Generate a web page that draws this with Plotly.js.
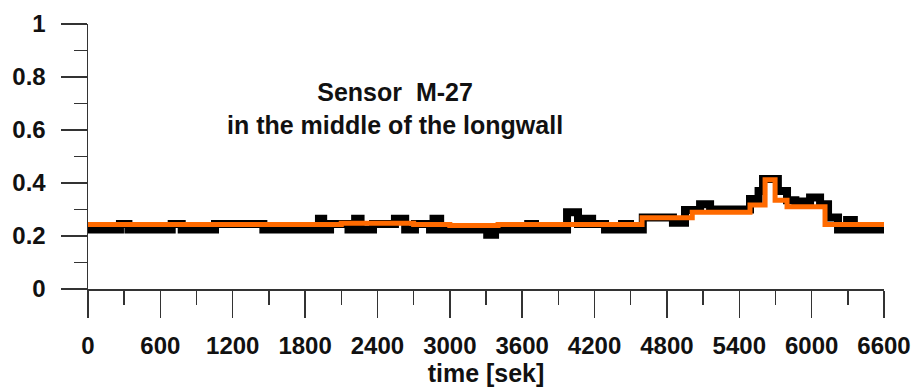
<!DOCTYPE html>
<html><head><meta charset="utf-8">
<script src="https://cdn.plot.ly/plotly-3.0.1.min.js"></script>
<style>html,body{margin:0;padding:0;background:#fff;}#chart{width:915px;height:390px;}</style>
</head><body><div id="chart"></div>
<script>
// Measured signal (black), step changes: time [s] and value
const sensorTime = [0,265,335,694,777,1053,1454,1915,1950,2007,2160,2215,2260,2363,2545,2630,2711,2836,2865,2920,3310,3375,3650,3706,3972,4063,4121,4180,4287,4428,4494,4600,4850,4950,5075,5158,5489,5560,5597,5720,5796,5865,5987,6070,6136,6219,6294,6350,6600];
const sensorValue = [0.225,0.245,0.225,0.245,0.225,0.245,0.225,0.265,0.225,0.245,0.225,0.265,0.225,0.245,0.265,0.225,0.245,0.225,0.265,0.225,0.205,0.225,0.245,0.225,0.29,0.245,0.265,0.245,0.225,0.245,0.225,0.27,0.25,0.298,0.32,0.3,0.34,0.37,0.415,0.37,0.335,0.33,0.345,0.32,0.27,0.225,0.26,0.225,0.225];
// Smoothed signal (orange)
const smoothTime = [0,2100,2700,3000,3400,4594,5010,5489,5614,5697,5796,6111,6600];
const smoothValue = [0.243,0.248,0.243,0.24,0.243,0.269,0.29,0.317,0.412,0.335,0.31,0.243,0.247];
// Axis ticks
const xTicks = [0,600,1200,1800,2400,3000,3600,4200,4800,5400,6000,6600];
const yTicks = [0,0.2,0.4,0.6,0.8,1];
const yTickText = ["0","0.2","0.4","0.6","0.8","1"];
const titleText = "Sensor\u00a0 M-27<br>in the middle of the longwall";
const xTitle = "time [sek]";

const FONT = "Liberation Sans, Arial, sans-serif";
const traces = [
  {x: sensorTime, y: sensorValue, type: "scatter", mode: "lines",
   line: {color: "#000000", width: 8, shape: "hv"}, hoverinfo: "skip", cliponaxis: false},
  {x: smoothTime, y: smoothValue, type: "scatter", mode: "lines",
   line: {color: "#ff6a00", width: 5, shape: "hv"}, hoverinfo: "skip", cliponaxis: false}
];
const axisCommon = {
  showline: true, linecolor: "#333", linewidth: 1.5,
  ticks: "outside", tickcolor: "#333", tickwidth: 1.5,
  showgrid: false, zeroline: false,
  tickfont: {family: FONT, size: 24, color: "#111", weight: 700}
};
const layout = {
  width: 915, height: 390,
  margin: {l: 88, r: 31, t: 24, b: 101},
  paper_bgcolor: "#fff", plot_bgcolor: "#fff",
  showlegend: false,
  xaxis: Object.assign({}, axisCommon, {
    range: [0, 6600], tickmode: "array", tickvals: xTicks, ticklen: 27,
    ticklabelstandoff: 8,
    minor: {dtick: 300, tick0: 0, ticks: "outside", ticklen: 14, tickcolor: "#333", tickwidth: 1.5},
    title: {text: xTitle, font: {family: FONT, size: 25, color: "#111", weight: 700}, standoff: 0}
  }),
  yaxis: Object.assign({}, axisCommon, {
    range: [0, 1], tickmode: "array", tickvals: yTicks, ticktext: yTickText, ticklen: 26,
    ticklabelstandoff: 10,
    minor: {dtick: 0.1, tick0: 0, ticks: "outside", ticklen: 13, tickcolor: "#333", tickwidth: 1.5}
  }),
  annotations: [{
    text: titleText, xref: "paper", yref: "paper", x: 0.386, y: 0.68,
    xanchor: "center", yanchor: "middle", showarrow: false, align: "center",
    font: {family: FONT, size: 25, color: "#111", weight: 700}
  }]
};
Plotly.newPlot("chart", traces, layout, {staticPlot: true, displayModeBar: false});
</script></body></html>
